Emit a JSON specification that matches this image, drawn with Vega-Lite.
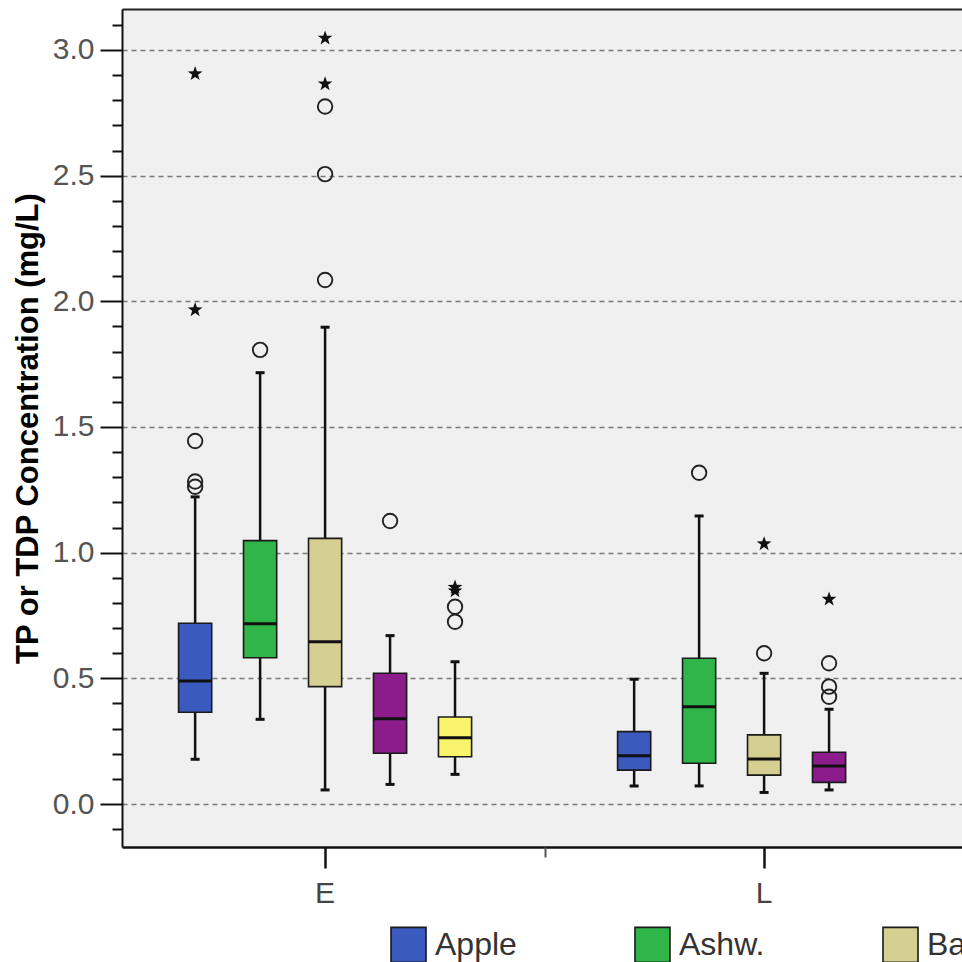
{
  "$schema": "https://vega.github.io/schema/vega-lite/v6.json",
  "autosize": {"type": "none"},
  "width": 840,
  "height": 838,
  "padding": {"left": 122, "top": 9, "right": 0, "bottom": 115},
  "background": "white",
  "config": {"font": "Liberation Sans", "view": {"stroke": null, "fill": "#f0f0f0"}},
  "datasets": {
    "boxes": [
      {"period": "E", "species": "Apple", "lo": 0.178, "q1": 0.365, "med": 0.489, "q3": 0.719, "hi": 1.222},
      {"period": "E", "species": "Ashw.", "lo": 0.337, "q1": 0.582, "med": 0.717, "q3": 1.048, "hi": 1.716},
      {"period": "E", "species": "Basswood", "lo": 0.056, "q1": 0.467, "med": 0.646, "q3": 1.057, "hi": 1.897},
      {"period": "E", "species": "Birch", "lo": 0.078, "q1": 0.202, "med": 0.339, "q3": 0.52, "hi": 0.67},
      {"period": "E", "species": "Cherry", "lo": 0.118, "q1": 0.188, "med": 0.264, "q3": 0.346, "hi": 0.566},
      {"period": "L", "species": "Apple", "lo": 0.072, "q1": 0.135, "med": 0.192, "q3": 0.288, "hi": 0.496},
      {"period": "L", "species": "Ashw.", "lo": 0.072, "q1": 0.162, "med": 0.387, "q3": 0.58, "hi": 1.146},
      {"period": "L", "species": "Basswood", "lo": 0.046, "q1": 0.115, "med": 0.179, "q3": 0.275, "hi": 0.52},
      {"period": "L", "species": "Birch", "lo": 0.056, "q1": 0.086, "med": 0.151, "q3": 0.206, "hi": 0.377}
    ],
    "outliers": [
      {"period": "E", "species": "Apple", "value": 1.262, "kind": "o"},
      {"period": "E", "species": "Apple", "value": 1.283, "kind": "o"},
      {"period": "E", "species": "Apple", "value": 1.444, "kind": "o"},
      {"period": "E", "species": "Apple", "value": 1.966, "kind": "x"},
      {"period": "E", "species": "Apple", "value": 2.905, "kind": "x"},
      {"period": "E", "species": "Ashw.", "value": 1.807, "kind": "o"},
      {"period": "E", "species": "Basswood", "value": 2.085, "kind": "o"},
      {"period": "E", "species": "Basswood", "value": 2.506, "kind": "o"},
      {"period": "E", "species": "Basswood", "value": 2.775, "kind": "o"},
      {"period": "E", "species": "Basswood", "value": 2.865, "kind": "x"},
      {"period": "E", "species": "Basswood", "value": 3.047, "kind": "x"},
      {"period": "E", "species": "Birch", "value": 1.126, "kind": "o"},
      {"period": "E", "species": "Cherry", "value": 0.725, "kind": "o"},
      {"period": "E", "species": "Cherry", "value": 0.785, "kind": "o"},
      {"period": "E", "species": "Cherry", "value": 0.848, "kind": "x"},
      {"period": "E", "species": "Cherry", "value": 0.862, "kind": "x"},
      {"period": "L", "species": "Ashw.", "value": 1.318, "kind": "o"},
      {"period": "L", "species": "Basswood", "value": 0.6, "kind": "o"},
      {"period": "L", "species": "Basswood", "value": 1.035, "kind": "x"},
      {"period": "L", "species": "Birch", "value": 0.427, "kind": "o"},
      {"period": "L", "species": "Birch", "value": 0.467, "kind": "o"},
      {"period": "L", "species": "Birch", "value": 0.56, "kind": "o"},
      {"period": "L", "species": "Birch", "value": 0.815, "kind": "x"}
    ]
  },
  "encoding": {
    "x": {"field": "period", "type": "nominal", "scale": {"domain": ["E", "L"], "paddingInner": 0.26, "paddingOuter": 0.0867, "align": 0.534}, "axis": null},
    "xOffset": {"field": "species", "type": "nominal", "scale": {"domain": ["Apple", "Ashw.", "Basswood", "Birch", "Cherry"], "paddingInner": 0.49, "paddingOuter": 0.245}}
  },
  "layer": [
    {
      "data": {"name": "boxes"},
      "mark": {"type": "rule", "color": "#111111", "strokeWidth": 2.5},
      "encoding": {
        "x": {"field": "period", "type": "nominal", "scale": {"domain": ["E", "L"], "paddingInner": 0.26, "paddingOuter": 0.0867, "align": 0.534},
          "axis": {"orient": "bottom", "title": null, "labelFontSize": 30, "labelColor": "#444444", "labelPadding": 10, "labelAngle": 0, "tickSize": 21, "tickWidth": 2.5, "tickColor": "#111111", "domainColor": "#111111", "domainWidth": 2.5, "grid": false}},
        "y": {"field": "lo", "type": "quantitative", "scale": {"domain": [-0.171, 3.163], "nice": false, "zero": false},
          "axis": {
            "orient": "left",
            "values": [0, 0.5, 1, 1.5, 2, 2.5, 3],
            "format": ".1f",
            "tickSize": 22,
            "tickWidth": 2, "tickColor": "#111111", "domainColor": "#111111", "domainWidth": 2,
            "labelFontSize": 30, "labelColor": "#555555", "labelPadding": 6, "labelFont": "Liberation Sans",
            "grid": true, "gridColor": "#787878", "gridDash": [5, 4], "gridWidth": 1.6,
            "title": "TP or TDP Concentration (mg/L)", "titleFontSize": 31, "titleFontWeight": "bold", "titleColor": "#000000", "titlePadding": 8, "titleFont": "Liberation Sans"
          }},
        "y2": {"field": "hi"}
      }
    },
    {
      "data": {"name": "boxes"},
      "mark": {"type": "bar", "stroke": "#1a1a1a", "strokeWidth": 1.6},
      "encoding": {
        "x": {"field": "period", "type": "nominal", "scale": {"domain": ["E", "L"], "paddingInner": 0.26, "paddingOuter": 0.0867, "align": 0.534},
          "axis": {"orient": "top", "labels": false, "ticks": false, "title": null, "domainColor": "#222222", "domainWidth": 2, "grid": false}},
        "y": {"field": "q1", "type": "quantitative", "scale": {"domain": [-0.171, 3.163], "nice": false, "zero": false},
          "axis": {
            "orient": "left",
            "values": [-0.1, 0.1, 0.2, 0.3, 0.4, 0.6, 0.7, 0.8, 0.9, 1.1, 1.2, 1.3, 1.4, 1.6, 1.7, 1.8, 1.9, 2.1, 2.2, 2.3, 2.4, 2.6, 2.7, 2.8, 2.9, 3.1],
            "labels": false, "domain": false, "grid": false, "title": null,
            "tickSize": 10, "tickWidth": 2, "tickColor": "#111111"
          }},
        "y2": {"field": "q3"},
        "fill": {"field": "species", "type": "nominal",
          "scale": {"domain": ["Apple", "Ashw.", "Basswood", "Birch", "Cherry"], "range": ["#3a5abe", "#2fb548", "#d5cf91", "#8c1c8c", "#f8f46c"]},
          "legend": {"orient": "none", "legendX": 268, "legendY": 917, "direction": "horizontal", "columns": 5, "title": null,
            "symbolType": "square", "symbolSize": 1225, "symbolStrokeColor": "#1a1a1a", "symbolStrokeWidth": 1.6, "symbolOpacity": 1,
            "labelFontSize": 32, "labelFont": "Liberation Sans", "labelColor": "#333333", "labelOffset": 8, "columnPadding": 114, "padding": 0, "labelLimit": 300}}
      }
    },
    {
      "data": {"name": "boxes"},
      "mark": {"type": "tick", "color": "#111111", "thickness": 3, "size": 33, "opacity": 1},
      "encoding": {
        "x": {"field": "period", "type": "nominal", "scale": {"domain": ["E", "L"], "paddingInner": 0.26, "paddingOuter": 0.0867, "align": 0.534},
          "axis": {"orient": "bottom", "labels": false, "domain": false, "title": null, "ticks": true, "tickSize": 10, "tickWidth": 2, "tickColor": "#555555", "bandPosition": 1, "tickOffset": 57, "grid": false}},
        "y": {"field": "med", "type": "quantitative", "scale": {"domain": [-0.171, 3.163], "nice": false, "zero": false}, "axis": null}
      }
    },
    {
      "data": {"name": "boxes"},
      "mark": {"type": "tick", "color": "#111111", "thickness": 3, "size": 9, "opacity": 1},
      "encoding": {
        "y": {"field": "lo", "type": "quantitative", "scale": {"domain": [-0.171, 3.163], "nice": false, "zero": false}, "axis": null}
      }
    },
    {
      "data": {"name": "boxes"},
      "mark": {"type": "tick", "color": "#111111", "thickness": 3, "size": 9, "opacity": 1},
      "encoding": {
        "y": {"field": "hi", "type": "quantitative", "scale": {"domain": [-0.171, 3.163], "nice": false, "zero": false}, "axis": null}
      }
    },
    {
      "data": {"name": "outliers"},
      "transform": [{"filter": "datum.kind == 'o'"}],
      "mark": {"type": "point", "shape": "circle", "filled": false, "stroke": "#222222", "strokeWidth": 1.9, "size": 210, "opacity": 1},
      "encoding": {
        "y": {"field": "value", "type": "quantitative", "scale": {"domain": [-0.171, 3.163], "nice": false, "zero": false}, "axis": null}
      }
    },
    {
      "data": {"name": "outliers"},
      "transform": [{"filter": "datum.kind == 'x'"}],
      "mark": {"type": "point", "shape": "M0,-1L0.235,-0.324L0.951,-0.309L0.38,0.124L0.588,0.809L0,0.4L-0.588,0.809L-0.38,0.124L-0.951,-0.309L-0.235,-0.324Z", "filled": true, "color": "#111111", "size": 240, "opacity": 1},
      "encoding": {
        "y": {"field": "value", "type": "quantitative", "scale": {"domain": [-0.171, 3.163], "nice": false, "zero": false}, "axis": null}
      }
    }
  ],
  "resolve": {"axis": {"x": "independent", "y": "independent"}}
}
